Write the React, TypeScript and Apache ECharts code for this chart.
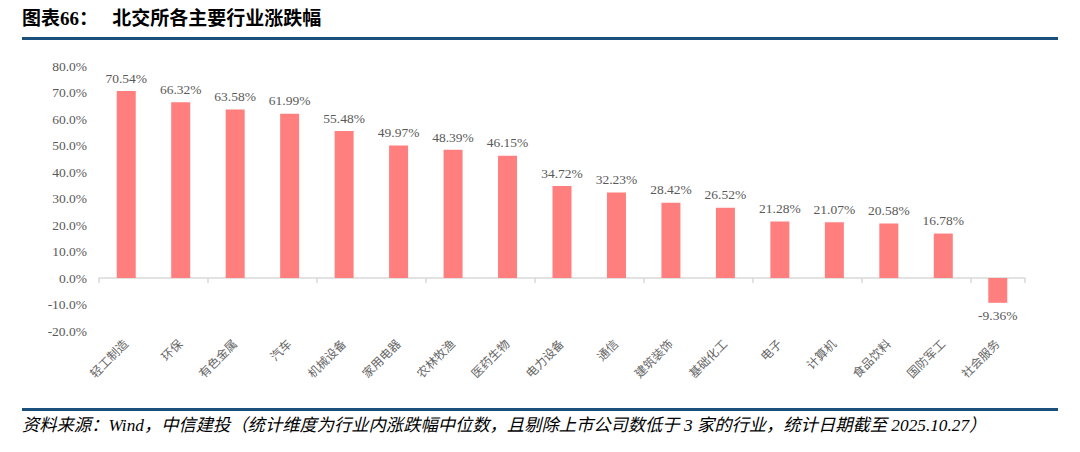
import React, { useEffect, useRef } from "react";
import * as echarts from "echarts";

const categories = ["轻工制造", "环保", "有色金属", "汽车", "机械设备", "家用电器", "农林牧渔", "医药生物", "电力设备", "通信", "建筑装饰", "基础化工", "电子", "计算机", "食品饮料", "国防军工", "社会服务"];
const values = [70.54, 66.32, 63.58, 61.99, 55.48, 49.97, 48.39, 46.15, 34.72, 32.23, 28.42, 26.52, 21.28, 21.07, 20.58, 16.78, -9.36];
const titleText = "图表66：   北交所各主要行业涨跌幅";
const sourceText = "资料来源：Wind，中信建投（统计维度为行业内涨跌幅中位数，且剔除上市公司数低于 3 家的行业，统计日期截至 2025.10.27）";

const labelFont = "'Liberation Serif', 'Noto Sans CJK SC', serif";

export default function App() {
  const ref = useRef<HTMLDivElement>(null);
  useEffect(() => {
    document.body.style.margin = "0";
    const chart = echarts.init(ref.current!, undefined, { renderer: "svg" });
    chart.setOption({
      animation: false,
      backgroundColor: "#ffffff",
      grid: { left: 99, right: 55, top: 66, bottom: 121, containLabel: false },
      xAxis: [
        {
          type: "category",
          data: categories,
          axisLine: { onZero: true, lineStyle: { color: "#d9d9d9", width: 1.5 } },
          axisTick: { show: true, length: 5, lineStyle: { color: "#d9d9d9", width: 1.5 }, inside: false },
          axisLabel: { show: false },
        },
        {
          type: "category",
          data: categories,
          position: "bottom",
          axisLine: { show: false, onZero: false },
          axisTick: { show: false },
          axisLabel: {
            show: true,
            rotate: 45,
            interval: 0,
            margin: 11,
            color: "#666666",
            fontSize: 12,
            fontFamily: labelFont,
          },
        },
      ],
      yAxis: {
        type: "value",
        min: -20,
        max: 80,
        interval: 10,
        splitLine: { show: false },
        axisLine: { show: false },
        axisTick: { show: false },
        axisLabel: {
          color: "#595959",
          fontSize: 13.5,
          fontFamily: labelFont,
          margin: 12,
          formatter: (v: number) => v.toFixed(1) + "%",
        },
      },
      series: [
        {
          type: "bar",
          xAxisIndex: 0,
          data: values.map((v) => ({
            value: v,
            label: { position: v < 0 ? "bottom" : "top" },
          })),
          barWidth: 19,
          itemStyle: { color: "#FF7F7F" },
          label: {
            show: true,
            distance: 6,
            color: "#595959",
            fontSize: 13.5,
            fontFamily: labelFont,
            formatter: (p: any) => Number(p.value).toFixed(2) + "%",
          },
        },
      ],
      graphic: [
        {
          type: "text",
          left: 22,
          top: 9,
          style: {
            text: titleText,
            font: "bold 19px 'Liberation Serif', 'Noto Sans CJK SC', sans-serif",
            fill: "#000000",
          },
        },
        {
          type: "rect",
          shape: { x: 22, y: 37, width: 1036, height: 3 },
          style: { fill: "#1b4f7e" },
        },
        {
          type: "rect",
          shape: { x: 22, y: 408, width: 1036, height: 3 },
          style: { fill: "#1b4f7e" },
        },
        {
          type: "text",
          left: 22,
          top: 417,
          style: {
            text: sourceText,
            font: "italic 17.3px 'Liberation Serif', 'Noto Sans CJK SC', serif",
            fill: "#000000",
          },
        },
      ],
    });
    return () => chart.dispose();
  }, []);
  return <div ref={ref} style={{ width: 1080, height: 452 }} />;
}
